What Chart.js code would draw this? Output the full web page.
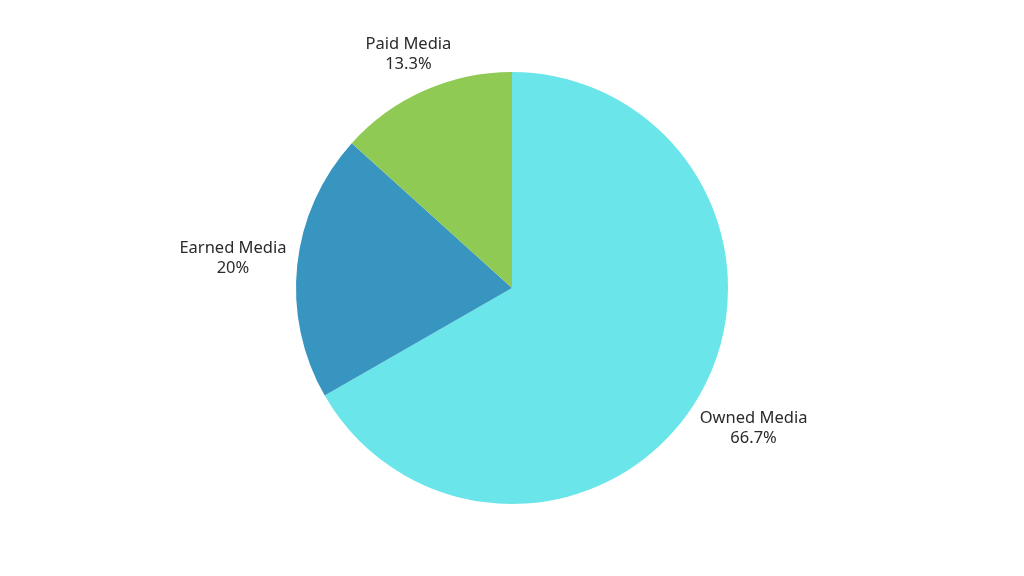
<!DOCTYPE html>
<html>
<head>
<meta charset="utf-8">
<script src="https://cdn.jsdelivr.net/npm/chart.js@4/dist/chart.umd.min.js"></script>
<style>
  html, body { margin: 0; padding: 0; background: #fff; }
  #wrap { width: 1024px; height: 576px; }
</style>
</head>
<body>
<div id="wrap"><canvas id="media"></canvas></div>
<script>
const categories = ['Owned Media', 'Earned Media', 'Paid Media'];
const shares = [66.7, 20, 13.3];
const shareLabels = ['66.7%', '20%', '13.3%'];
const sliceColors = ['#6ae5e9', '#3895c0', '#8fca55'];

// draws "name / percent" outside each slice
const outsideLabels = {
  id: 'outsideLabels',
  afterDatasetsDraw(chart) {
    const ctx = chart.ctx;
    const meta = chart.getDatasetMeta(0);
    ctx.save();
    ctx.font = '16.5px "Noto Sans", sans-serif';
    ctx.fillStyle = '#2b2b2b';
    ctx.textAlign = 'center';
    ctx.textBaseline = 'middle';
    meta.data.forEach((arc, i) => {
      const mid = (arc.startAngle + arc.endAngle) / 2;
      const c = Math.cos(mid), s = Math.sin(mid);
      const w = Math.max(ctx.measureText(categories[i]).width, ctx.measureText(shareLabels[i]).width);
      const h = 26;
      const d = arc.outerRadius + 10 + Math.abs(c) * w / 2 + Math.abs(s) * h / 2;
      const x = arc.x + c * d;
      const y = arc.y + s * d;
      ctx.fillText(categories[i], x, y - 10);
      ctx.fillText(shareLabels[i], x, y + 10);
    });
    ctx.restore();
  }
};

new Chart(document.getElementById('media'), {
  type: 'pie',
  data: {
    labels: categories,
    datasets: [{
      data: shares,
      backgroundColor: sliceColors,
      borderWidth: 0
    }]
  },
  options: {
    responsive: true,
    maintainAspectRatio: false,
    animation: false,
    layout: { padding: 72 },
    plugins: {
      legend: { display: false },
      tooltip: { enabled: false }
    }
  },
  plugins: [outsideLabels]
});
</script>
</body>
</html>
